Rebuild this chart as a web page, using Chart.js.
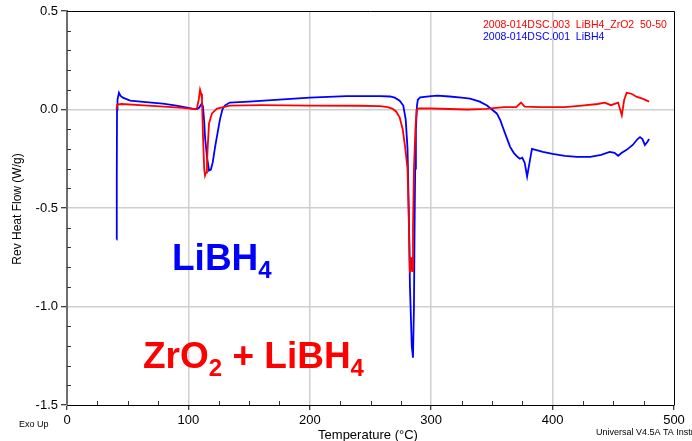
<!DOCTYPE html>
<html>
<head>
<meta charset="utf-8">
<script src="https://cdn.jsdelivr.net/npm/chart.js@4.4.1/dist/chart.umd.min.js"></script>
<style>
  html, body { margin: 0; padding: 0; background: #fff; }
  canvas { display: block; }
</style>
</head>
<body>
<canvas id="dsc" width="692" height="441"></canvas>
<script>
// Reversing heat flow, LiBH4 (run .001)
const tempLiBH4 = [40.9, 41.0, 41.2, 41.6, 42.8, 44, 46, 52, 65, 79, 90, 99, 104, 107, 109, 111, 112, 113, 113.7, 115.3, 117, 118.5, 120, 122, 124, 126, 128, 130, 134, 150, 175, 200, 230, 258, 266, 270, 274, 277, 279, 280.5, 281.5, 282.5, 284, 285, 285.8, 286.3, 286.8, 287.4, 288.3, 289, 291, 300, 305, 315, 325, 332, 340, 346, 350, 354, 357, 359, 362, 365, 368, 371, 373, 375, 377, 379, 381, 383, 386, 392, 400, 410, 420, 431, 440, 447, 451, 454, 457, 461, 466, 470, 472, 474, 476, 478, 479.5];
const flowLiBH4 = [-0.66, -0.35, 0.0, 0.05, 0.085, 0.07, 0.06, 0.045, 0.037, 0.03, 0.02, 0.01, 0.003, 0.002, 0.01, 0.03, 0.015, -0.06, -0.14, -0.24, -0.31, -0.305, -0.27, -0.19, -0.12, -0.05, 0.0, 0.02, 0.035, 0.04, 0.05, 0.06, 0.068, 0.068, 0.066, 0.06, 0.045, 0.02, -0.05, -0.2, -0.5, -0.9, -1.2, -1.26, -1.0, -0.6, -0.3, -0.1, 0.02, 0.05, 0.062, 0.068, 0.07, 0.066, 0.06, 0.055, 0.04, 0.02, 0.0, -0.02, -0.055, -0.09, -0.14, -0.19, -0.22, -0.24, -0.25, -0.245, -0.27, -0.34, -0.27, -0.2, -0.205, -0.215, -0.225, -0.235, -0.24, -0.24, -0.23, -0.215, -0.22, -0.235, -0.22, -0.205, -0.18, -0.15, -0.14, -0.15, -0.18, -0.165, -0.15];

// Reversing heat flow, LiBH4 + ZrO2 50-50 (run .003)
const tempMix = [40.8, 41.3, 45, 60, 80, 95, 105, 107, 108.5, 109.6, 110.5, 111.2, 112, 113, 113.7, 114.5, 115.3, 116, 117, 119.4, 123.6, 134, 160, 200, 240, 258, 264, 268, 271, 274, 276.5, 278.5, 280.5, 281.5, 282.5, 283.5, 284.3, 285, 285.8, 287, 288, 290, 300, 330, 345, 360, 370, 374, 377, 390, 410, 424, 437, 443, 448, 454, 457, 459, 461, 465, 469, 474, 479.5];
const flowMix = [0.0, 0.025, 0.028, 0.022, 0.015, 0.008, 0.002, 0.005, 0.05, 0.1, 0.08, 0.05, -0.13, -0.3, -0.335, -0.32, -0.27, -0.18, -0.07, -0.02, 0.005, 0.02, 0.022, 0.02, 0.019, 0.017, 0.012, 0.005, -0.01, -0.04, -0.1, -0.19, -0.3, -0.55, -0.83, -0.75, -0.82, -0.6, -0.3, -0.1, 0.0, 0.005, 0.005, 0.0, 0.003, 0.012, 0.012, 0.035, 0.015, 0.012, 0.012, 0.02, 0.028, 0.035, 0.022, 0.035, -0.03, 0.05, 0.085, 0.08, 0.065, 0.055, 0.04];

// Axis ranges and tick labels
const xTicks = [0, 100, 200, 300, 400, 500];
const yTicks = ['0.5', '0.0', '-0.5', '-1.0', '-1.5'];
const seriesNames = ['2008-014DSC.003  LiBH4_ZrO2  50-50', '2008-014DSC.001  LiBH4'];

const FONT = "'Liberation Sans', Arial, sans-serif";
const toPoints = (xs, ys) => xs.map((x, i) => ({ x: x, y: ys[i] }));

// Minor ticks, frame and free text
const decorations = {
  id: 'decorations',
  afterDraw(chart) {
    const { ctx, chartArea: a, scales: { x, y } } = chart;
    ctx.save();
    // frame top and right
    ctx.strokeStyle = '#000';
    ctx.lineWidth = 1;
    ctx.beginPath();
    ctx.moveTo(a.left, a.top + 0.5);
    ctx.lineTo(a.right + 0.5, a.top + 0.5);
    ctx.lineTo(a.right + 0.5, a.bottom);
    ctx.stroke();

    // minor ticks inside the plot
    ctx.strokeStyle = '#333';
    ctx.beginPath();
    for (let v = 25; v < 500; v += 25) {
      if (v % 100 === 0) continue;
      const px = Math.round(x.getPixelForValue(v)) + 0.5;
      ctx.moveTo(px, a.bottom);
      ctx.lineTo(px, a.bottom - 4);
    }
    for (let k = -14; k <= 4; k++) {
      if (k % 5 === 0) continue;
      const py = Math.round(y.getPixelForValue(k / 10)) + 0.5;
      ctx.moveTo(a.left, py);
      ctx.lineTo(a.left + 4, py);
    }
    ctx.stroke();

    // series names
    ctx.font = '10.5px ' + FONT;
    ctx.textBaseline = 'middle';
    ctx.textAlign = 'left';
    ctx.fillStyle = '#ff0000';
    ctx.fillText(seriesNames[0], 483, 25);
    ctx.fillStyle = '#0000ff';
    ctx.fillText(seriesNames[1], 483, 37);

    // axis titles and footer notes
    ctx.fillStyle = '#000';
    ctx.font = '13px ' + FONT;
    ctx.textAlign = 'center';
    ctx.fillText('Temperature (°C)', 368, 435);
    ctx.save();
    ctx.translate(18, 209);
    ctx.rotate(-Math.PI / 2);
    ctx.font = '12px ' + FONT;
    ctx.fillText('Rev Heat Flow (W/g)', 0, 0);
    ctx.restore();
    ctx.font = '9px ' + FONT;
    ctx.textAlign = 'left';
    ctx.fillText('Exo Up', 19, 425);
    ctx.fillText('Universal V4.5A TA Instruments', 596, 433);

    // formula labels with subscripts
    const formula = (parts, x0, base, color, size) => {
      ctx.fillStyle = color;
      ctx.textBaseline = 'alphabetic';
      let cx = x0;
      for (const [txt, sub] of parts) {
        const fs = sub ? Math.round(size * 0.66) : size;
        ctx.font = 'bold ' + fs + 'px ' + FONT;
        ctx.fillText(txt, cx, sub ? base + size * 0.22 : base);
        cx += ctx.measureText(txt).width;
      }
    };
    formula([['LiBH', false], ['4', true]], 172, 270, '#0000ff', 37);
    formula([['ZrO', false], ['2', true], [' + LiBH', false], ['4', true]], 143, 368, '#ff0000', 37);
    ctx.restore();
  }
};

new Chart(document.getElementById('dsc'), {
  type: 'scatter',
  data: {
    datasets: [
      {
        label: seriesNames[0],
        data: toPoints(tempMix, flowMix),
        showLine: true,
        borderColor: '#ff0000',
        backgroundColor: '#ff0000',
        borderWidth: 1.8,
        pointRadius: 0,
        tension: 0
      },
      {
        label: seriesNames[1],
        data: toPoints(tempLiBH4, flowLiBH4),
        showLine: true,
        borderColor: '#0000ff',
        backgroundColor: '#0000ff',
        borderWidth: 1.8,
        pointRadius: 0,
        tension: 0
      }
    ]
  },
  options: {
    responsive: false,
    animation: false,
    layout: { padding: { top: 11, right: 18, left: 0, bottom: 0 } },
    plugins: { legend: { display: false }, tooltip: { enabled: false } },
    scales: {
      x: {
        type: 'linear',
        min: xTicks[0],
        max: xTicks[xTicks.length - 1],
        afterFit: s => { s.height = 36; },
        afterBuildTicks: s => { s.ticks = xTicks.map(v => ({ value: v })); },
        ticks: {
          color: '#000',
          font: { family: FONT, size: 13 },
          padding: 3,
          maxRotation: 0,
          callback: v => String(v)
        },
        grid: {
          color: c => (c.tick && (c.tick.value === 0 || c.tick.value === 500)) ? 'rgba(0,0,0,0)' : '#cfcfcf',
          lineWidth: 1.5,
          tickColor: '#000',
          tickLength: 5,
          tickWidth: 1
        },
        border: { display: true, color: '#000', width: 1 }
      },
      y: {
        type: 'linear',
        min: -1.5,
        max: 0.5,
        afterFit: s => { s.width = 67; },
        afterBuildTicks: s => { s.ticks = yTicks.map(t => ({ value: parseFloat(t) })); },
        ticks: {
          color: '#000',
          font: { family: FONT, size: 13 },
          padding: 3,
          callback: v => v.toFixed(1)
        },
        grid: {
          color: c => (c.tick && (c.tick.value === 0.5 || c.tick.value === -1.5)) ? 'rgba(0,0,0,0)' : '#cfcfcf',
          lineWidth: 1.5,
          tickColor: '#000',
          tickLength: 6,
          tickWidth: 1
        },
        border: { display: true, color: '#6e6e6e', width: 2 }
      }
    }
  },
  plugins: [decorations]
});
</script>
</body>
</html>
